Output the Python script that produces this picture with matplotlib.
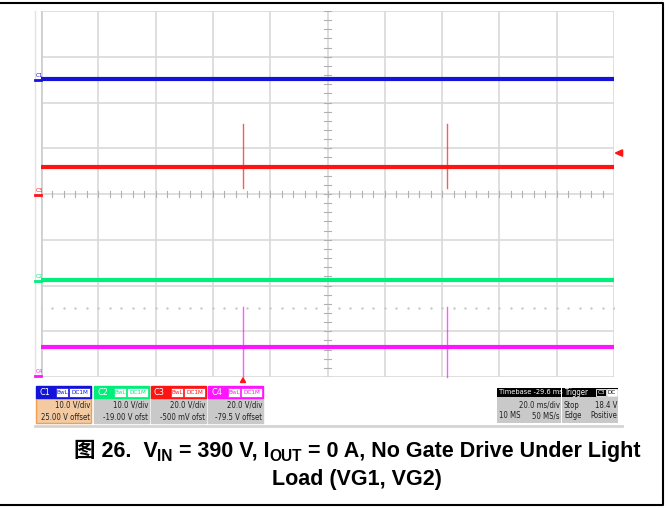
import matplotlib
matplotlib.use("Agg")
import matplotlib.pyplot as plt
from matplotlib.patches import Rectangle, Polygon

# Scope settings
channels = ["C1", "C2", "C3", "C4"]
volts_per_div = [10.0, 10.0, 20.0, 20.0]
offset_v = [25.0, -19.0, -0.5, -79.5]
level_v = [0.1, 0.3, 12.5, 12.5]          # flat trace level of each channel
spike_hi_v = [None, None, 31.0, 30.0]     # top of the switching spikes
spike_lo_v = [None, None, 3.0, -0.5]      # bottom of the switching spikes
spike_t_ms = [70.5, 141.7]
ms_per_div = 20.0
trig_pos_ms = 70.5
trig_level_v = 18.4

vdiv_txt = ["10.0 V/div", "10.0 V/div", "20.0 V/div", "20.0 V/div"]
ofs_txt = ["25.00 V offset", "-19.00 V ofst", "-500 mV ofst", "-79.5 V offset"]
colors = ["#1414d8", "#00ee7a", "#ff1414", "#ff14ff"]

W, H = 669, 508
fig = plt.figure(figsize=(W / 100, H / 100), dpi=100)

# scope graticule: 10 x 8 divisions
L, R, T, B = 41, 614, 11, 377
ax = fig.add_axes([L / W, 1 - B / H, (R - L) / W, (B - T) / H])
ax.set_xlim(0, 10 * ms_per_div)
ax.set_ylim(-4, 4)
ax.axis("off")

grid_c = "#d9d9d9"
for i in range(11):
    ax.axvline(i * ms_per_div, color=grid_c, lw=1.2, zorder=1)
for j in range(-4, 5):
    ax.axhline(j, color=grid_c, lw=1.2, zorder=1)
ax.axvline(0, color="#cfcfcf", lw=2, zorder=1)

# minor ticks on the centre cross
for k in range(51):
    t = k * ms_per_div / 5
    ax.plot([t, t], [-0.06, 0.06], color="#b0b0b0", lw=0.8, zorder=1)
for k in range(-20, 21):
    ax.plot([98.8, 101.2], [k / 5, k / 5], color="#b0b0b0", lw=0.8, zorder=1)
# dotted row
for k in range(51):
    ax.plot(k * ms_per_div / 5, -2.5, ".", color="#c8c8c8", ms=1.5, zorder=1)

def to_div(v, i):
    return (v + offset_v[i]) / volts_per_div[i]

for i, ch in enumerate(channels):
    y = to_div(level_v[i], i)
    ax.plot([0, 10 * ms_per_div], [y, y], color=colors[i], lw=3, zorder=3,
            solid_capstyle="butt")
    if spike_hi_v[i] is not None:
        for t in spike_t_ms:
            ax.plot([t, t], [to_div(spike_lo_v[i], i), to_div(spike_hi_v[i], i)],
                    color=colors[i], lw=1, alpha=0.7, zorder=4, clip_on=False)
    # offset marker at the left edge
    yo = to_div(0, i)
    ax.plot([-2.1, 0], [yo, yo], color=colors[i], lw=2, clip_on=False, zorder=5)
    ax.text(-2.0, yo + 0.04, ch, color=colors[i], fontsize=4, ha="left", va="bottom",
            clip_on=False)

# trigger markers
ty = to_div(trig_level_v, 2)
ax.add_patch(Polygon([[200.5, ty], [203, ty + 0.07], [203, ty - 0.07]], closed=True,
                     color="#ff1414", clip_on=False, zorder=5))
ax.add_patch(Polygon([[trig_pos_ms, -4.02], [trig_pos_ms - 0.9, -4.12],
                      [trig_pos_ms + 0.9, -4.12]], closed=True,
                     color="#ff1414", clip_on=False, zorder=5))

# overlay in pixel coordinates for the frame, info boxes and caption
ov = fig.add_axes([0, 0, 1, 1], zorder=-1)
ov.set_xlim(0, W)
ov.set_ylim(H, 0)
ov.axis("off")

ov.plot([0, 663, 663, 0], [3, 3, 505, 505], color="black", lw=1.5)
ov.plot([35, 35], [T, B], color="#e2e2e2", lw=1)
ov.plot([35, 622], [426, 426], color="#d4d4d4", lw=2)

fs = 5.6

def info(x, y, s, ha="left", color="#202020", size=fs):
    ov.text(x, y, s, color=color, fontsize=size, ha=ha, va="center",
            family="DejaVu Sans", stretch="condensed")

box_x = [36, 94, 151, 208]
for i, ch in enumerate(channels):
    x0 = box_x[i]
    w = 55
    body = "#f3caa2" if i == 0 else "#c9c9c9"
    ov.add_patch(Rectangle((x0, 398), w, 25, facecolor=body,
                           edgecolor="#f0a050" if i == 0 else body, lw=1))
    ov.add_patch(Rectangle((x0, 386), w, 12, facecolor=colors[i], edgecolor=colors[i]))
    info(x0 + 3, 392.5, ch, color="white", size=6.5)
    ov.add_patch(Rectangle((x0 + 20, 387.5), 12, 9, facecolor="white",
                           edgecolor=colors[i], lw=0.5))
    ov.add_patch(Rectangle((x0 + 33, 387.5), 21, 9, facecolor="white",
                           edgecolor=colors[i], lw=0.5))
    info(x0 + 26, 392.3, "BwL", ha="center", color=colors[i], size=4.6)
    info(x0 + 43.5, 392.3, "DC1M", ha="center", color=colors[i], size=4.6)
    info(x0 + w - 1, 405, vdiv_txt[i], ha="right")
    info(x0 + w - 1, 417, ofs_txt[i], ha="right")

# timebase and trigger boxes
ov.add_patch(Rectangle((497, 397), 64, 26, facecolor="#c9c9c9", edgecolor="none"))
ov.add_patch(Rectangle((497, 387.5), 64, 9.5, facecolor="black"))
info(499, 392.5, "Timebase -29.6 ms", color="white", size=5.3)
info(560, 405, "20.0 ms/div", ha="right")
info(499, 416, "10 MS")
info(560, 416, "50 MS/s", ha="right")

ov.add_patch(Rectangle((562, 397), 56, 26, facecolor="#c9c9c9", edgecolor="none"))
ov.add_patch(Rectangle((562, 387.5), 56, 9.5, facecolor="black"))
info(564, 392.5, "Trigger", color="white")
ov.add_patch(Rectangle((596, 388.5), 10, 7.5, facecolor="black", edgecolor="white", lw=0.6))
ov.add_patch(Rectangle((607, 388.5), 10, 7.5, facecolor="white", edgecolor="white", lw=0.6))
info(601, 392.3, "C3", ha="center", color="white", size=4.5)
info(612, 392.3, "DC", ha="center", color="black", size=4.5)
info(564, 405, "Stop")
info(617, 405, "18.4 V", ha="right")
info(564, 416, "Edge")
info(617, 416, "Positive", ha="right")

# caption, laid out run by run so the subscripts sit right
cap_font = ["Liberation Sans", "Noto Sans CJK SC"]
cap_fs = 15.5
runs1 = [("图 26.  V", 0), ("IN", 1), (" = 390 V, I", 0), ("OUT", 1),
         (" = 0 A, No Gate Drive Under Light", 0)]
renderer = fig.canvas.get_renderer()

def draw_runs(runs, cx, base_y):
    arts = []
    for s, sub in runs:
        t = ov.text(0, base_y + (4 if sub else 0), s, fontsize=cap_fs * (0.72 if sub else 1),
                    fontweight="bold", family=cap_font, ha="left", va="baseline",
                    color="black")
        arts.append(t)
    widths = [a.get_window_extent(renderer).width for a in arts]
    x = cx - sum(widths) / 2
    for a, wdt in zip(arts, widths):
        a.set_x(x)
        x += wdt

draw_runs(runs1, 357, 457)
draw_runs([("Load (VG1, VG2)", 0)], 357, 485)

fig.savefig("out.png", dpi=100)
